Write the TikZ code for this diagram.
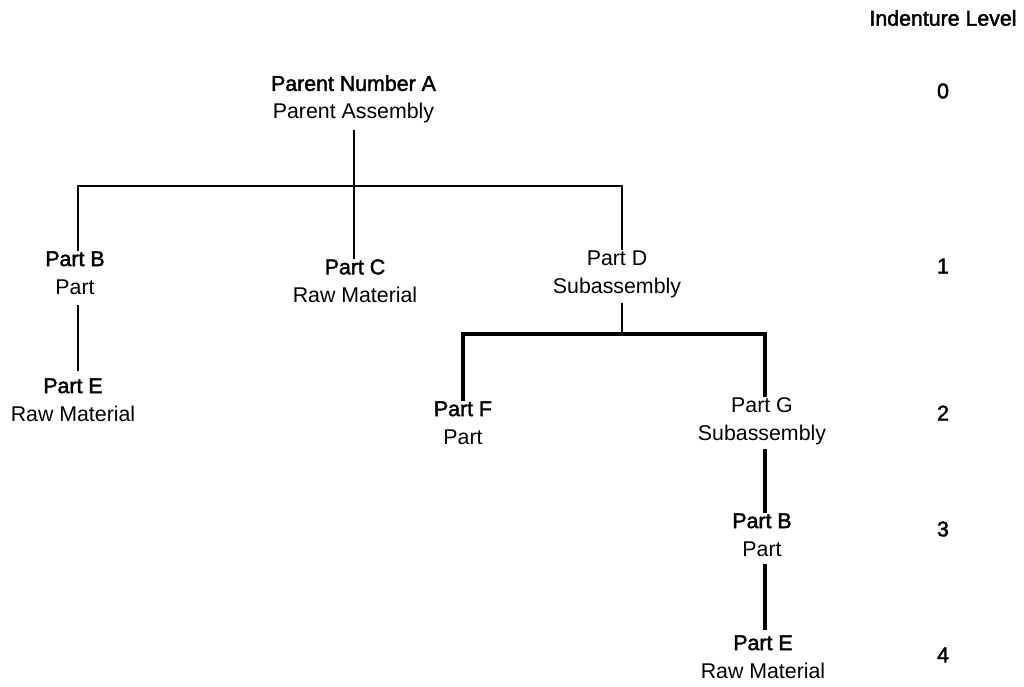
\documentclass[tikz,border=0pt]{standalone}
\usepackage{fontspec}
\setmainfont{Liberation Sans}
\newfontfamily\heavy[FakeBold=2]{Liberation Sans}
\begin{document}
\begin{tikzpicture}[x=0.75pt,y=-0.75pt,
  every node/.style={inner sep=0pt,outer sep=0pt,font=\fontsize{16}{21}\selectfont},
  item/.style={anchor=north,align=center},
  level/.style={anchor=center,font=\fontsize{16}{21}\selectfont\heavy},
  link/.style={draw=black,line width=1.5pt},
  heavylink/.style={draw=black,line width=2.6pt,line join=miter}]
\useasboundingbox (0,0) rectangle (1024,686);

% indenture level column
\node[anchor=center,font=\fontsize{16}{21}\selectfont\heavy] (hdr) at (943,18) {Indenture Level};
\node[level] (lv0) at (943,91) {0};
\node[level] (lv1) at (943,266) {1};
\node[level] (lv2) at (943,413) {2};
\node[level] (lv3) at (943,529) {3};
\node[level] (lv4) at (943,655) {4};

% parts
\node[item] (pA)  at (353.5,75.4) {{\heavy Parent Number A}\\Parent Assembly};
\node[item] (pB)  at (75,251.4)  {{\heavy Part B}\\Part};
\node[item] (pC)  at (355,259.4) {{\heavy Part C}\\Raw Material};
\node[item] (pD)  at (617,250.4) {Part D\\Subassembly};
\node[item] (pE1) at (73,378.4)  {{\heavy Part E}\\Raw Material};
\node[item] (pF)  at (463,401.4) {{\heavy Part F}\\Part};
\node[item] (pG)  at (762,397.4) {Part G\\Subassembly};
\node[item] (pB3) at (762,513.4) {{\heavy Part B}\\Part};
\node[item] (pE4) at (763,635.4) {{\heavy Part E}\\Raw Material};

% bus and bracket corners
\coordinate (busL) at (78,186);
\coordinate (busR) at (622,186);
\coordinate (brM)  at (622,334);
\coordinate (brR)  at (765,334);

% level 0 -> level 1
\draw[link,shorten <=5.25pt] (pA.south) -- (pA.south |- pC.north);
\draw[link] ([xshift=2.25pt]pB.north) -- (busL) -- (busR) -- ([xshift=3.75pt]pD.north);

% Part B -> Part E
\draw[link,shorten <=8.25pt,shorten >=5.25pt] ([xshift=2.25pt]pB.south) -- ([xshift=2.25pt]pB.south |- pE1.north);

% Part D -> level 2
\draw[link,shorten <=3.75pt] ([xshift=3.75pt]pD.south) -- (brM);
\draw[heavylink] (pF.north) |- (brR) -- ([xshift=2.25pt]pG.north);

% Part G -> Part B -> Part E
\draw[heavylink,shorten <=3pt] ([xshift=2.25pt]pG.south) -- ([xshift=2.25pt]pB3.north);
\draw[heavylink,shorten <=6pt,shorten >=3.75pt] ([xshift=2.25pt]pB3.south) -- ([xshift=2.25pt]pB3.south |- pE4.north);
\end{tikzpicture}
\end{document}
